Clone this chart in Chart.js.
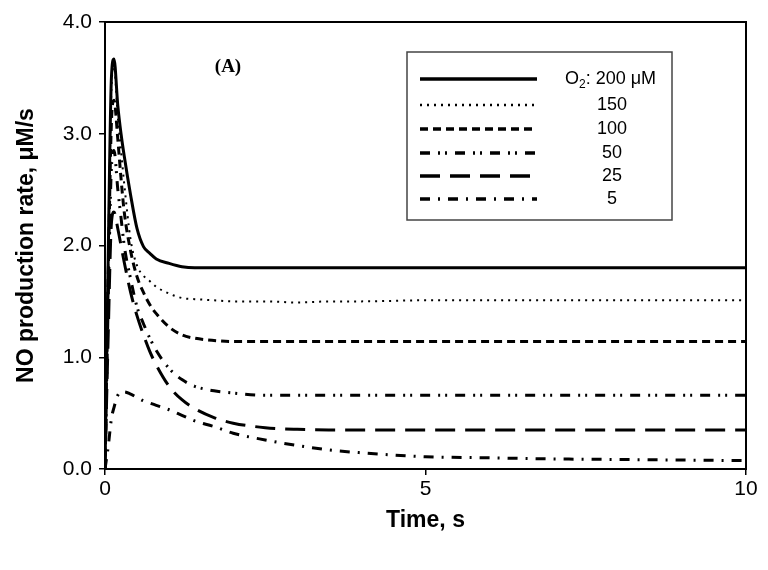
<!DOCTYPE html>
<html>
<head>
<meta charset="utf-8">
<script src="https://cdn.jsdelivr.net/npm/chart.js@4.4.1/dist/chart.umd.min.js"></script>
<style>
  body { margin: 0; background: #fff; }
</style>
</head>
<body>
<canvas id="chart" width="768" height="570"></canvas>
<script>
// time points, s
const times = [0, 0.05, 0.1, 0.14, 0.2, 0.25, 0.3, 0.4, 0.5, 0.6, 0.7, 0.8, 1.0, 1.2, 1.4, 1.7, 2.0, 2.5, 3.0, 3.5, 4, 5, 6, 7, 8, 9, 10];
// NO production rate, uM/s, per O2 level
const o2_200 = [0, 1.9, 3.5, 3.67, 3.25, 3.0, 2.8, 2.45, 2.15, 1.99, 1.93, 1.88, 1.84, 1.81, 1.8, 1.8, 1.8, 1.8, 1.8, 1.8, 1.8, 1.8, 1.8, 1.8, 1.8, 1.8, 1.8];
const o2_150 = [0, 1.8, 3.4, 3.6, 3.15, 2.85, 2.55, 2.05, 1.82, 1.73, 1.68, 1.63, 1.57, 1.53, 1.52, 1.51, 1.5, 1.5, 1.49, 1.5, 1.5, 1.51, 1.51, 1.51, 1.51, 1.51, 1.51];
const o2_100 = [0, 1.7, 3.1, 3.3, 2.95, 2.6, 2.3, 1.95, 1.72, 1.58, 1.47, 1.39, 1.27, 1.2, 1.17, 1.15, 1.14, 1.14, 1.14, 1.14, 1.14, 1.14, 1.14, 1.14, 1.14, 1.14, 1.14];
const o2_50 = [0, 1.5, 2.7, 2.85, 2.5, 2.25, 2.0, 1.7, 1.45, 1.3, 1.17, 1.06, 0.9, 0.8, 0.74, 0.7, 0.68, 0.66, 0.66, 0.66, 0.66, 0.66, 0.66, 0.66, 0.66, 0.66, 0.66];
const o2_25 = [0, 1.2, 2.2, 2.3, 2.15, 2.0, 1.85, 1.58, 1.37, 1.2, 1.05, 0.93, 0.74, 0.62, 0.54, 0.46, 0.41, 0.37, 0.355, 0.35, 0.35, 0.35, 0.35, 0.35, 0.35, 0.35, 0.35];
const o2_5 = [0, 0.2, 0.45, 0.55, 0.66, 0.69, 0.69, 0.67, 0.64, 0.61, 0.59, 0.57, 0.53, 0.48, 0.43, 0.38, 0.32, 0.26, 0.21, 0.17, 0.145, 0.11, 0.1, 0.09, 0.085, 0.08, 0.075];

const seriesLabels = ['200', '150', '100', '50', '25', '5'];
const yTicks = [0, 1, 2, 3, 4];
const xTicks = [0, 5, 10];

const styles = [
  { width: 3, dash: [] },
  { width: 2, dash: [2, 5] },
  { width: 3, dash: [8, 5] },
  { width: 3, dash: [10, 8, 2, 5, 2, 8] },
  { width: 3, dash: [20, 10] },
  { width: 3, dash: [10, 8, 2, 8] }
];

function pts(vals) {
  return times.map((t, i) => ({ x: t, y: vals[i] }));
}

const allSeries = [o2_200, o2_150, o2_100, o2_50, o2_25, o2_5];
const datasets = allSeries.map((vals, i) => ({
  label: seriesLabels[i],
  data: pts(vals),
  borderColor: '#000',
  borderWidth: styles[i].width,
  borderDash: styles[i].dash,
  pointRadius: 0,
  fill: false,
  cubicInterpolationMode: 'monotone'
}));

const sans = '"Liberation Sans", Arial, sans-serif';

// frame + legend box + panel letter
const extras = {
  id: 'extras',
  afterDatasetsDraw(chart) {
    const ctx = chart.ctx;
    const a = chart.chartArea;
    ctx.save();
    ctx.strokeStyle = '#000';
    ctx.lineWidth = 2;
    ctx.setLineDash([]);
    ctx.strokeRect(a.left, a.top, a.right - a.left, a.bottom - a.top);

    // panel letter
    ctx.fillStyle = '#000';
    ctx.font = 'bold 19px "Liberation Serif", "Times New Roman", serif';
    ctx.textAlign = 'center';
    ctx.textBaseline = 'middle';
    ctx.fillText('(A)', 228, 67);

    // legend
    ctx.fillStyle = '#fff';
    ctx.fillRect(407, 52, 265, 168);
    ctx.strokeStyle = '#444';
    ctx.lineWidth = 1.5;
    ctx.strokeRect(407, 52, 265, 168);
    const rows = [79, 105, 129, 153, 176, 199];
    chart.data.datasets.forEach((ds, i) => {
      const y = rows[i];
      ctx.strokeStyle = '#000';
      ctx.lineWidth = ds.borderWidth + 0.5;
      ctx.setLineDash(ds.borderDash);
      ctx.beginPath();
      ctx.moveTo(420, y);
      ctx.lineTo(537, y);
      ctx.stroke();
      ctx.setLineDash([]);
      ctx.fillStyle = '#000';
      ctx.font = '18px ' + sans;
      ctx.textBaseline = 'middle';
      if (i === 0) {
        ctx.textAlign = 'left';
        let x = 565;
        ctx.fillText('O', x, y);
        x += ctx.measureText('O').width;
        ctx.font = '12px ' + sans;
        ctx.fillText('2', x, y + 6);
        x += ctx.measureText('2').width;
        ctx.font = '18px ' + sans;
        ctx.fillText(': ' + ds.label + ' \u03BCM', x, y);
      } else {
        ctx.textAlign = 'center';
        ctx.fillText(ds.label, 612, y);
      }
    });
    ctx.restore();
  }
};

new Chart(document.getElementById('chart'), {
  type: 'line',
  data: { datasets: datasets },
  options: {
    responsive: false,
    animation: false,
    layout: { padding: { top: 22, right: 22, left: 0, bottom: 0 } },
    plugins: { legend: { display: false }, tooltip: { enabled: false } },
    scales: {
      x: {
        type: 'linear',
        min: 0,
        max: 10,
        afterBuildTicks(scale) { scale.ticks = xTicks.map(v => ({ value: v })); },
        afterFit(scale) { scale.height = 101; },
        grid: { drawOnChartArea: false, drawTicks: true, tickLength: 6, color: '#000', lineWidth: 1.5 },
        border: { display: false },
        ticks: { color: '#000', font: { family: sans, size: 21 }, padding: 2, maxRotation: 0 },
        title: { display: true, text: 'Time, s', color: '#000', font: { family: sans, size: 23, weight: 'bold' }, padding: { top: 0, bottom: 36 } }
      },
      y: {
        min: 0,
        max: 4,
        afterBuildTicks(scale) { scale.ticks = yTicks.map(v => ({ value: v })); },
        afterFit(scale) { scale.width = 105; },
        grid: { drawOnChartArea: false, drawTicks: true, tickLength: 6, color: '#000', lineWidth: 1.5 },
        border: { display: false },
        ticks: { color: '#000', font: { family: sans, size: 21 }, padding: 7, callback: v => v.toFixed(1) },
        title: { display: true, text: 'NO production rate, \u03BCM/s', color: '#000', font: { family: sans, size: 23, weight: 'bold' }, padding: { top: 13, bottom: 0 } }
      }
    }
  },
  plugins: [extras]
});
</script>
</body>
</html>
